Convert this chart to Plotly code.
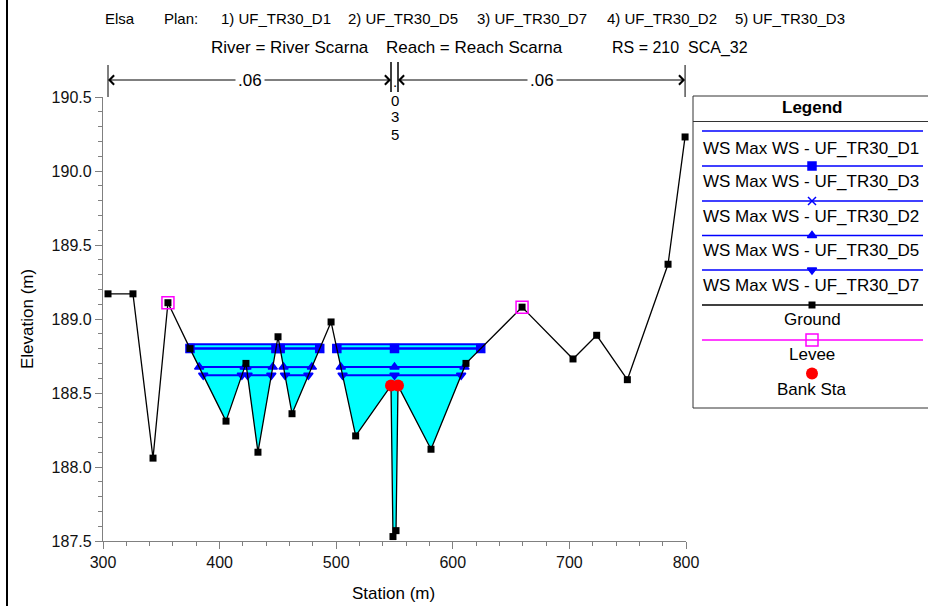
import numpy as np
import plotly.graph_objects as go

# ---------------- data ----------------
ground_sta = [304.3, 325.7, 342.9, 355.7, 374.6, 405.5, 422.6, 432.9, 450.1, 462.1,
              495.6, 516.7, 547.0, 548.7, 551.3, 553.0, 581.3, 611.3, 659.4, 703.1,
              723.4, 749.7, 784.6, 799.2]
ground_elev = [189.17, 189.17, 188.06, 189.11, 188.80, 188.31, 188.70, 188.10, 188.88, 188.36,
               188.98, 188.21, 188.55, 187.53, 187.57, 188.55, 188.12, 188.70, 189.08, 188.73,
               188.89, 188.59, 189.37, 190.23]
levee_sta = [355.7, 659.4]
levee_elev = [189.11, 189.08]
bank_sta = [547.0, 553.0]
bank_elev = [188.55, 188.55]

ws_names = ["WS Max WS - UF_TR30_D1", "WS Max WS - UF_TR30_D3", "WS Max WS - UF_TR30_D2",
            "WS Max WS - UF_TR30_D5", "WS Max WS - UF_TR30_D7"]
ws_elev = [188.83, 188.80, 188.80, 188.675, 188.62]
ws_symbols = [None, "square", "x-thin", "triangle-up", "triangle-down"]

n_break_sta = [304.3, 547.0, 553.0, 799.2]
n_values = [".06", ".035", ".06"]

plan_title = "Elsa"
plan_labels = ["1) UF_TR30_D1", "2) UF_TR30_D5", "3) UF_TR30_D7", "4) UF_TR30_D2", "5) UF_TR30_D3"]
loc_labels = ["River = River Scarna", "Reach = Reach Scarna", "RS = 210", "SCA_32"]

x_range = [300, 800]
y_range = [187.5, 190.5]

# ---------------- layout geometry (pixels) ----------------
W, H = 928, 606
L, R, T, B = 103, 686, 97, 541
FONT = "Liberation Sans, Arial, sans-serif"
BLUE = "#0000FF"


def px_x(p):
    return p / W


def px_y(p):
    return 1 - p / H


gx = np.array(ground_sta)
gz = np.array(ground_elev)


def wet_segments(ws):
    lo, hi = levee_sta
    segs = []
    for i in range(len(gx) - 1):
        x0, x1, z0, z1 = gx[i], gx[i + 1], gz[i], gz[i + 1]
        if x1 <= lo or x0 >= hi:
            continue
        if z0 < ws and z1 < ws:
            s, e = x0, x1
        elif z0 >= ws and z1 >= ws:
            continue
        else:
            xc = x0 + (ws - z0) * (x1 - x0) / (z1 - z0)
            s, e = (x0, xc) if z0 < ws else (xc, x1)
        if segs and abs(segs[-1][1] - s) < 1e-9:
            segs[-1][1] = e
        else:
            segs.append([s, e])
    return segs


fig = go.Figure()

# ---------------- water fill (first profile) ----------------
ws_fill = ws_elev[0]
segs = wet_segments(ws_fill)
pts = []
for s, e in segs:
    pts += [s, e]
    pts += [x for x in gx if s < x < e]
xs = np.array(sorted(set(pts)))
zs = np.minimum(np.interp(xs, gx, gz), ws_fill)
fig.add_trace(go.Scatter(x=[xs[0], xs[-1]], y=[ws_fill, ws_fill], mode="lines",
                         line=dict(width=0), showlegend=False, hoverinfo="skip"))
fig.add_trace(go.Scatter(x=xs, y=zs, mode="lines", line=dict(width=0), fill="tonexty",
                         fillcolor="#00FFFF", showlegend=False, hoverinfo="skip"))

# ---------------- water surface lines ----------------
chan_mid = 0.5 * (bank_sta[0] + bank_sta[1])
order = [0, 4, 3, 2, 1]
for k in order:
    ws = ws_elev[k]
    sg = wet_segments(ws)
    lx, ly = [], []
    mx = []
    for s, e in sg:
        lx += [s, e, None]
        ly += [ws, ws, None]
        mx += [s, e]
        if s < chan_mid < e:
            mx.append(chan_mid)
    fig.add_trace(go.Scatter(x=lx, y=ly, mode="lines", line=dict(color=BLUE, width=2),
                             showlegend=False, hoverinfo="skip"))
    if ws_symbols[k]:
        fig.add_trace(go.Scatter(x=mx, y=[ws] * len(mx), mode="markers",
                                 marker=dict(symbol=ws_symbols[k], color=BLUE, size=8,
                                             line=dict(color=BLUE, width=1.5)),
                                 showlegend=False, hoverinfo="skip", cliponaxis=False))

# ---------------- ground, levee, bank ----------------
fig.add_trace(go.Scatter(x=ground_sta, y=ground_elev, mode="lines+markers",
                         line=dict(color="black", width=1.3),
                         marker=dict(symbol="square", color="black", size=7),
                         showlegend=False, cliponaxis=False))
fig.add_trace(go.Scatter(x=levee_sta, y=levee_elev, mode="markers",
                         marker=dict(symbol="square-open", color="#FF00FF", size=12,
                                     line=dict(width=1.5)),
                         showlegend=False, cliponaxis=False))
fig.add_trace(go.Scatter(x=bank_sta, y=bank_elev, mode="markers",
                         marker=dict(symbol="circle", color="#FF0000", size=12),
                         showlegend=False, cliponaxis=False))

shapes = []
annotations = []

# ---------------- Manning's n annotations ----------------
y_arrow = px_y(80)
for i, nv in enumerate(n_values):
    a, b = n_break_sta[i], n_break_sta[i + 1]
    for xb in (a, b):
        inner = xb not in (n_break_sta[0], n_break_sta[-1])
        shapes.append(dict(type="line", xref="x", yref="paper", x0=xb, x1=xb,
                           y0=px_y(62 if inner else 65), y1=px_y(92 if inner else 97),
                           line=dict(color="black", width=1)))
    span_px = (b - a) * (R - L) / (x_range[1] - x_range[0])
    mid = 0.5 * (a + b)
    if span_px > 30:
        for tip in (a, b):
            annotations.append(dict(x=tip, y=y_arrow, xref="x", yref="paper", ax=mid, ay=0,
                                    axref="x", ayref="pixel", text="", showarrow=True,
                                    arrowhead=4, arrowsize=1.8, arrowwidth=1,
                                    arrowcolor="black"))
        annotations.append(dict(x=mid, y=y_arrow, xref="x", yref="paper", text=nv,
                                showarrow=False, bgcolor="white", borderpad=2,
                                xanchor="center", yanchor="middle",
                                font=dict(family=FONT, size=17, color="black")))
    else:
        for j, ch in enumerate(nv):
            annotations.append(dict(x=mid, y=px_y(82 + 17 * j + (1 if j else 0)), xref="x",
                                    yref="paper", text=ch, showarrow=False, borderpad=0,
                                    xanchor="center", yanchor="middle",
                                    font=dict(family=FONT, size=15, color="black")))

# ---------------- titles ----------------
title_font = dict(family=FONT, size=15, color="black")
annotations.append(dict(x=px_x(103), y=px_y(18), xref="paper", yref="paper", text=plan_title,
                        xanchor="left", yanchor="middle", showarrow=False, font=title_font))
annotations.append(dict(x=px_x(162), y=px_y(18), xref="paper", yref="paper", text="Plan:",
                        xanchor="left", yanchor="middle", showarrow=False, font=title_font))
for lab, xp in zip(plan_labels, [219, 346, 475, 605, 733]):
    annotations.append(dict(x=px_x(xp), y=px_y(18), xref="paper", yref="paper", text=lab,
                            xanchor="left", yanchor="middle", showarrow=False, font=title_font))
for lab, xp, fs in zip(loc_labels, [209, 384, 610, 686], [17, 17, 16, 16]):
    annotations.append(dict(x=px_x(xp), y=px_y(48), xref="paper", yref="paper", text=lab,
                            xanchor="left", yanchor="middle", showarrow=False,
                            font=dict(family=FONT, size=fs, color="black")))

# axis titles
annotations.append(dict(x=px_x(27), y=px_y(319), xref="paper", yref="paper", text="Elevation (m)",
                        textangle=-90, showarrow=False, xanchor="center", yanchor="middle",
                        font=dict(family=FONT, size=17, color="black")))
annotations.append(dict(x=px_x(393), y=px_y(593), xref="paper", yref="paper", text="Station (m)",
                        showarrow=False, xanchor="center", yanchor="middle",
                        font=dict(family=FONT, size=17, color="black")))

# left frame line
shapes.append(dict(type="line", xref="paper", yref="paper", x0=px_x(7), x1=px_x(7),
                   y0=0, y1=1, line=dict(color="black", width=2)))

# ---------------- custom legend (pixel overlay axes x2/y2) ----------------
LX0, LX1, LY0, LY1 = 693, 931, 96, 408
shapes.append(dict(type="rect", xref="paper", yref="paper", x0=px_x(LX0), x1=px_x(LX1),
                   y0=px_y(LY0), y1=px_y(LY1), line=dict(color="#333", width=1),
                   fillcolor="white", layer="below"))
shapes.append(dict(type="line", xref="paper", yref="paper", x0=px_x(LX0), x1=px_x(LX1),
                   y0=px_y(121.5), y1=px_y(121.5), line=dict(color="#333", width=1)))
leg_center = 812
annotations.append(dict(x=px_x(leg_center), y=px_y(108), xref="paper", yref="paper",
                        text="<b>Legend</b>", showarrow=False, xanchor="center", yanchor="middle",
                        font=dict(family=FONT, size=17, color="black")))
leg_font = dict(family=FONT, size=17, color="black")
line_ys = [131, 166, 201, 235.5, 270]
text_ys = [148, 181.5, 216, 250.5, 285]
for k in range(5):
    shapes.append(dict(type="line", xref="paper", yref="paper", x0=px_x(702), x1=px_x(923),
                       y0=px_y(line_ys[k]), y1=px_y(line_ys[k]), line=dict(color=BLUE, width=1.5)))
    annotations.append(dict(x=px_x(701), y=px_y(text_ys[k]), xref="paper", yref="paper",
                            text=ws_names[k], showarrow=False, xanchor="left", yanchor="middle",
                            font=leg_font))
    if ws_symbols[k]:
        fig.add_trace(go.Scatter(x=[leg_center], y=[line_ys[k]], xaxis="x2",
                                 yaxis="y2", mode="markers",
                                 marker=dict(symbol=ws_symbols[k], color=BLUE, size=8,
                                             line=dict(color=BLUE, width=1.5)),
                                 showlegend=False, hoverinfo="skip", cliponaxis=False))
# ground
shapes.append(dict(type="line", xref="paper", yref="paper", x0=px_x(702), x1=px_x(923),
                   y0=px_y(305), y1=px_y(305), line=dict(color="black", width=1.3)))
fig.add_trace(go.Scatter(x=[leg_center], y=[305], xaxis="x2", yaxis="y2",
                         mode="markers", marker=dict(symbol="square", color="black", size=7),
                         showlegend=False, hoverinfo="skip", cliponaxis=False))
annotations.append(dict(x=px_x(leg_center), y=px_y(320), xref="paper", yref="paper",
                        text="Ground", showarrow=False, xanchor="center", yanchor="middle",
                        font=leg_font))
# levee
shapes.append(dict(type="line", xref="paper", yref="paper", x0=px_x(702), x1=px_x(923),
                   y0=px_y(340), y1=px_y(340), line=dict(color="#FF00FF", width=1.3)))
fig.add_trace(go.Scatter(x=[leg_center], y=[340], xaxis="x2", yaxis="y2",
                         mode="markers",
                         marker=dict(symbol="square-open", color="#FF00FF", size=12,
                                     line=dict(width=1.5)),
                         showlegend=False, hoverinfo="skip", cliponaxis=False))
annotations.append(dict(x=px_x(leg_center), y=px_y(354.5), xref="paper", yref="paper",
                        text="Levee", showarrow=False, xanchor="center", yanchor="middle",
                        font=leg_font))
# bank sta
fig.add_trace(go.Scatter(x=[leg_center], y=[373.5], xaxis="x2", yaxis="y2",
                         mode="markers", marker=dict(symbol="circle", color="#FF0000", size=12),
                         showlegend=False, hoverinfo="skip", cliponaxis=False))
annotations.append(dict(x=px_x(leg_center), y=px_y(389), xref="paper", yref="paper",
                        text="Bank Sta", showarrow=False, xanchor="center", yanchor="middle",
                        font=leg_font))

axis_col = "#808080"
tick_font = dict(family=FONT, size=16, color="#111")
fig.update_layout(
    width=W, height=H,
    margin=dict(l=0, r=0, t=0, b=0, pad=0, autoexpand=False),
    paper_bgcolor="white", plot_bgcolor="rgba(0,0,0,0)",
    showlegend=False,
    font=dict(family=FONT, size=16, color="black"),
    xaxis=dict(domain=[L / W, R / W], range=x_range, dtick=100, tick0=300, showgrid=False,
               zeroline=False, anchor="y",
               showline=True, linecolor=axis_col, linewidth=1.3, ticks="outside", ticklen=7,
               tickcolor=axis_col, tickwidth=1.3, tickfont=tick_font,
               minor=dict(dtick=20, tick0=300, ticks="outside", ticklen=4, tickcolor=axis_col,
                          showgrid=False)),
    yaxis=dict(domain=[1 - B / H, 1 - T / H], range=y_range, dtick=0.5, tick0=187.5,
               tickformat=".1f", showgrid=False, anchor="x",
               zeroline=False, showline=True, linecolor=axis_col, linewidth=1.3, ticks="outside",
               ticklen=7, tickcolor=axis_col, tickwidth=1.3, tickfont=tick_font,
               minor=dict(dtick=0.1, tick0=187.5, ticks="outside", ticklen=4, tickcolor=axis_col,
                          showgrid=False)),
    xaxis2=dict(domain=[0, 1], range=[0, W], visible=False, fixedrange=True, anchor="y2"),
    yaxis2=dict(domain=[0, 1], range=[H, 0], visible=False, fixedrange=True, anchor="x2"),
    shapes=shapes,
    annotations=annotations,
)

fig.write_html("out.html", config={"displayModeBar": False},
               post_script="document.body.style.margin='0px';")
